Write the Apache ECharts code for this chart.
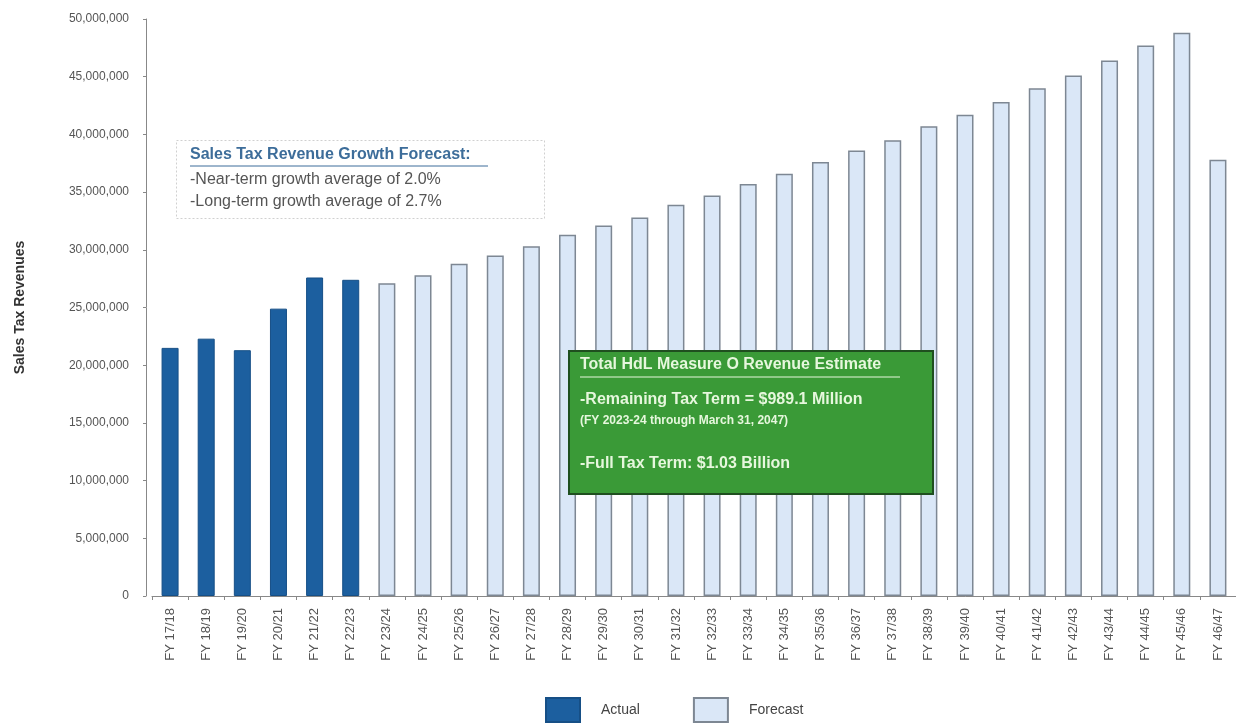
<!DOCTYPE html>
<html>
<head>
<meta charset="utf-8">
<script src="https://cdn.jsdelivr.net/npm/echarts@6/dist/echarts.min.js"></script>
<style>
html,body{margin:0;padding:0;background:#fff;}
#chart{width:1236px;height:725px;}
</style>
</head>
<body>
<div id="chart"></div>
<script>
var categories = ["FY 17/18","FY 18/19","FY 19/20","FY 20/21","FY 21/22","FY 22/23","FY 23/24","FY 24/25","FY 25/26","FY 26/27","FY 27/28","FY 28/29","FY 29/30","FY 30/31","FY 31/32","FY 32/33","FY 33/34","FY 34/35","FY 35/36","FY 36/37","FY 37/38","FY 38/39","FY 39/40","FY 40/41","FY 41/42","FY 42/43","FY 43/44","FY 44/45","FY 45/46","FY 46/47"];
var actualValues = [21500000,22300000,21300000,24900000,27600000,27400000,null,null,null,null,null,null,null,null,null,null,null,null,null,null,null,null,null,null,null,null,null,null,null,null];
var forecastValues = [null,null,null,null,null,null,27100000,27800000,28800000,29500000,30300000,31300000,32100000,32800000,33900000,34700000,35700000,36600000,37600000,38600000,39500000,40700000,41700000,42800000,44000000,45100000,46400000,47700000,48800000,37800000];
var seriesNames = ["Actual","Forecast"];
var yTitle = "Sales Tax Revenues";
var note1 = ["Sales Tax Revenue Growth Forecast:","-Near-term growth average of 2.0%","-Long-term growth average of 2.7%"];
var note2 = ["Total HdL Measure O Revenue Estimate","-Remaining Tax Term = $989.1 Million","(FY 2023-24 through March 31, 2047)","-Full Tax Term: $1.03 Billion"];

var FONT = 'Arial, "Liberation Sans", sans-serif';
var chart = echarts.init(document.getElementById('chart'));
function commas(v){return String(v).replace(/\B(?=(\d{3})+(?!\d))/g, ',');}
var option = {
  animation:false,
  backgroundColor:'#ffffff',
  textStyle:{fontFamily:FONT},
  grid:{left:152,right:0,top:19,bottom:129,containLabel:false},
  legend:{
    data:seriesNames, left:545, top:697, padding:0, itemWidth:34, itemHeight:24, itemGap:53,
    icon:'rect',
    textStyle:{fontSize:14,color:'#444',padding:[0,0,0,16]}
  },
  xAxis:{
    type:'category', data:categories,
    axisLine:{lineStyle:{color:'#888',width:1}},
    axisTick:{show:true,length:4,lineStyle:{color:'#888'}},
    axisLabel:{rotate:90,fontSize:13,color:'#555',margin:12,interval:0}
  },
  yAxis:{
    type:'value', min:0, max:50000000, interval:5000000, offset:6,
    name:yTitle, nameLocation:'middle', nameGap:119, nameRotate:90,
    nameTextStyle:{fontSize:14,color:'#333',fontWeight:'bold'},
    axisLine:{show:true,lineStyle:{color:'#888',width:1}},
    axisTick:{show:true,length:3,lineStyle:{color:'#888'}},
    splitLine:{show:false},
    axisLabel:{fontSize:12,color:'#555',margin:17,formatter:function(v){return commas(v);}}
  },
  series:[
    {name:seriesNames[0],type:'bar',stack:'s',data:actualValues,barWidth:17,
     itemStyle:{color:'#1c5f9f',borderColor:'#164f86',borderWidth:1}},
    {name:seriesNames[1],type:'bar',stack:'s',data:forecastValues,barWidth:17,
     itemStyle:{color:'#dae7f7',borderColor:'#7d8793',borderWidth:1.5}}
  ],
  graphic:[
    {type:'rect',left:176,top:140,shape:{width:368,height:78},
     style:{fill:'#ffffff',stroke:'#d0d0d0',lineWidth:1,lineDash:[2,2]},z:10},
    {type:'text',left:190,top:147,z:11,style:{text:note1[0],fill:'#3d6d9a',font:'bold 16px '+FONT}},
    {type:'line',z:11,shape:{x1:190,y1:166,x2:488,y2:166},style:{stroke:'#3d6d9a',lineWidth:1}},
    {type:'text',left:190,top:172,z:11,style:{text:note1[1],fill:'#555',font:'16px '+FONT}},
    {type:'text',left:190,top:194,z:11,style:{text:note1[2],fill:'#555',font:'16px '+FONT}},
    {type:'rect',left:568,top:350,shape:{width:364,height:143},
     style:{fill:'#3a9a37',stroke:'#1f4f1f',lineWidth:2},z:10},
    {type:'text',left:580,top:357,z:11,style:{text:note2[0],fill:'#e6f7dd',font:'bold 16px '+FONT}},
    {type:'line',z:11,shape:{x1:580,y1:377,x2:900,y2:377},style:{stroke:'#e6f7dd',lineWidth:1}},
    {type:'text',left:580,top:392,z:11,style:{text:note2[1],fill:'#e6f7dd',font:'bold 16px '+FONT}},
    {type:'text',left:580,top:415,z:11,style:{text:note2[2],fill:'#e6f7dd',font:'bold 12px '+FONT}},
    {type:'text',left:580,top:456,z:11,style:{text:note2[3],fill:'#e6f7dd',font:'bold 16px '+FONT}}
  ]
};
chart.setOption(option);
</script>
</body>
</html>
